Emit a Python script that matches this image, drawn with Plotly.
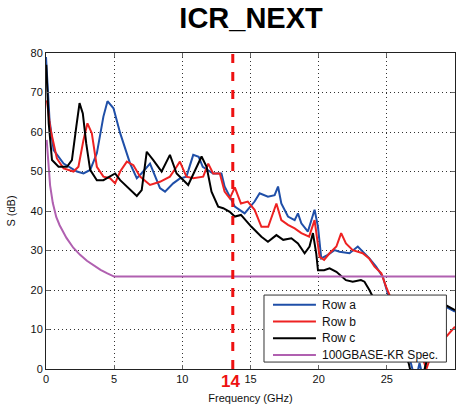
import plotly.graph_objects as go

# ---- data (frequency in GHz, S in dB) ----
freq_a = [0.0, 0.26, 0.56, 1.29, 2.27, 2.75, 3.24, 3.73, 4.21, 4.51, 4.95, 5.44, 6.17, 6.66,
          7.0, 7.63, 8.36, 8.73, 9.33, 9.8, 10.3, 10.8, 11.2, 11.5, 12.26, 12.87, 13.1, 13.48,
          13.85, 14.2, 14.57, 15.3, 15.67, 16.28, 16.77, 17.02, 17.26, 17.75, 18.24, 18.48,
          18.73, 19.21, 19.7, 19.95, 20.19, 20.67, 21.16, 21.53, 22.26, 22.87, 23.23, 23.72,
          24.21, 24.7, 25.06, 25.8, 26.5, 27.1, 27.4, 27.7, 28.0, 28.7, 29.3, 30.0]
row_a = [79, 63, 55.4, 52, 50, 49.5, 50.4, 54.6, 63.9, 67.8, 66, 59.7, 52, 48.3,
         49.5, 52, 45.8, 44.9, 47, 48.2, 48.7, 54.2, 53.7, 51.2, 49.5, 49.5, 46.2, 43.6,
         41.1, 40.3, 39.4, 42.4, 44.5, 43.6, 44, 46.2, 41.9, 38.6, 37.7, 39.4,
         36.9, 34.8, 40.3, 36, 28, 28.9, 30.1, 29.7, 29.3, 31, 29.7, 28,
         25.9, 23.4, 19.2, 12, 5, -3, 1.5, -3, 8, 13, 15.8, 14.5]

freq_b = [0.07, 0.31, 0.8, 1.29, 2.02, 2.38, 2.75, 3.04, 3.36, 3.73, 4.21, 4.7, 5.07, 5.44,
          5.93, 6.41, 6.9, 7.63, 8.36, 9.09, 9.58, 9.82, 10.3, 10.8, 11.53, 11.9, 12.26, 12.75,
          13.1, 13.48, 13.85, 14.3, 14.8, 15.3, 15.8, 16.3, 16.9, 17.26, 17.75, 18.24, 18.73,
          19.3, 19.7, 20.07, 20.4, 20.8, 21.3, 21.65, 22.0, 22.5, 23.23, 23.7, 24.1, 24.6,
          24.95, 25.2, 26.0, 27.0, 27.6, 27.9, 28.2, 28.8, 29.45, 30.0]
row_b = [68, 61, 53.3, 50.8, 50, 51.2, 58, 62.2, 59.7, 51.2, 48.7, 48.3, 47, 50,
         52.5, 51.6, 48.7, 46.6, 47.4, 48.7, 51.2, 52.5, 48.7, 48.3, 48.7, 52, 49.5, 49.5,
         44.9, 43.2, 46, 41.9, 42.4, 40.3, 36, 36, 41.9, 37.7, 36.5, 35.6, 34.4,
         33.5, 37.7, 28.4, 27.6, 29.3, 31, 34.4, 31.8, 30.1, 29.3, 28, 25.9, 24.2,
         20.8, 18.7, 12, 5, 3, 0, 3, 6, 8.6, 10.7]

freq_c = [0.02, 0.2, 0.44, 0.92, 1.54, 1.9, 2.22, 2.46, 2.7, 2.95, 3.24, 3.73, 4.21, 4.7,
          5.07, 5.44, 5.93, 6.66, 7.02, 7.39, 7.87, 8.48, 9.09, 9.58, 10.43, 10.92, 11.41,
          11.78, 12.14, 12.63, 13.0, 13.48, 13.85, 14.3, 15.07, 15.8, 16.28, 16.9, 17.4, 18.0,
          18.48, 18.97, 19.33, 19.58, 19.82, 19.95, 20.4, 20.8, 21.3, 22.0, 22.5, 23.1, 23.36,
          23.72, 23.97, 25.0, 26.0, 26.6, 26.9, 27.5, 28.2, 29.3, 30.0]
row_c = [77, 62.2, 52.9, 51.2, 51.2, 52.9, 61.3, 67.3, 64.7, 57.1, 50.4, 47.8, 47.8, 48.7,
         49.5, 47.8, 46.2, 43.8, 45.3, 55, 52.9, 50, 54.2, 49.5, 46.6, 50.4, 53.8,
         51.2, 44.9, 41.1, 40.7, 39.8, 38.6, 39, 36, 33.5, 32.2, 33.9, 32.7, 33.1,
         31.8, 29.3, 31, 34.4, 29.3, 25, 25, 25.5, 24.6, 22.5, 22.1, 22.5, 22.1,
         20, 18.3, 12, 6, 1.5, -3, -4, 6, 16.2, 14.9]

freq_spec = [0.05, 0.1, 0.2, 0.3, 0.5, 0.75, 1.0, 1.5, 2.0, 2.5, 3.0, 3.5, 4.0, 4.5, 5.0, 30.0]
spec = [58, 55.5, 49.5, 46.5, 42, 38.5, 36.4, 33.2, 30.7, 28.9, 27.4, 26.2, 25.1, 24.2, 23.4, 23.4]

marker_freq = 13.7
marker_label = "14"
x_ticks = [0, 5, 10, 15, 20, 25, 30]
y_ticks = [0, 10, 20, 30, 40, 50, 60, 70, 80]

series = [
    ("Row a", freq_a, row_a, "#1f4fa8"),
    ("Row b", freq_b, row_b, "#ee2222"),
    ("Row c", freq_c, row_c, "#000000"),
    ("100GBASE-KR Spec.", freq_spec, spec, "#b060b0"),
]

fig = go.Figure()
for name, xs, ys, col in series:
    fig.add_trace(go.Scatter(x=xs, y=ys, mode="lines", name=name,
                             line=dict(color=col, width=2), showlegend=False))

# dashed marker line + red label under the axis
fig.add_shape(type="line", x0=marker_freq, x1=marker_freq, y0=0, y1=80,
              line=dict(color="#ee1111", width=3, dash="dash"))
fig.add_annotation(x=marker_freq - 0.15, y=-0.038, xref="x", yref="paper",
                   text="<b>" + marker_label + "</b>", showarrow=False,
                   font=dict(color="#ee1111", size=17, family="Liberation Sans"),
                   yanchor="middle")

# legend box drawn by hand (MATLAB-like compact rows)
lx0, lx1, ly0, ly1 = 0.533, 0.979, 0.022, 0.234
fig.add_shape(type="rect", xref="paper", yref="paper", x0=lx0, x1=lx1, y0=ly0, y1=ly1,
              fillcolor="white", line=dict(color="#333", width=1), layer="above")
row_h = (ly1 - ly0) / len(series)
for i, (name, _, _, col) in enumerate(series):
    yc = ly1 - row_h * (i + 0.58)
    fig.add_shape(type="line", xref="paper", yref="paper", x0=0.555, x1=0.66, y0=yc, y1=yc,
                  line=dict(color=col, width=2), layer="above")
    fig.add_annotation(x=0.67, y=yc, xref="paper", yref="paper", text=name,
                       showarrow=False, xanchor="left", yanchor="middle",
                       font=dict(size=12, color="#111"))

axis_common = dict(
    showgrid=True, gridcolor="#333", griddash="1px,3px", gridwidth=1,
    zeroline=False, showline=True, linecolor="#222", linewidth=1, mirror="ticks",
    ticks="inside", ticklen=4, tickcolor="#666", automargin=False,
    tickfont=dict(size=11, color="#111"),
)

fig.update_layout(
    width=459, height=405,
    title=dict(text="<b>ICR_NEXT</b>", x=0.547, xanchor="center", y=0.98, yanchor="top",
               font=dict(size=29, color="#000", family="Liberation Sans")),
    xaxis=dict(range=[0, 30], tickvals=x_ticks,
               title=dict(text="Frequency (GHz)", font=dict(size=11, color="#111"), standoff=10),
               **axis_common),
    yaxis=dict(range=[0, 80], tickvals=y_ticks,
               title=dict(text="S (dB)", font=dict(size=11, color="#111"), standoff=12),
               **axis_common),
    showlegend=False,
    font=dict(family="Liberation Sans"),
    plot_bgcolor="white", paper_bgcolor="white",
    margin=dict(l=46, r=4, t=53, b=36),
)

# page has a default 8px body margin; drop it so the figure fills the window
fig.write_html("out.html", config={"displayModeBar": False},
               post_script="document.body.style.margin='0';")
